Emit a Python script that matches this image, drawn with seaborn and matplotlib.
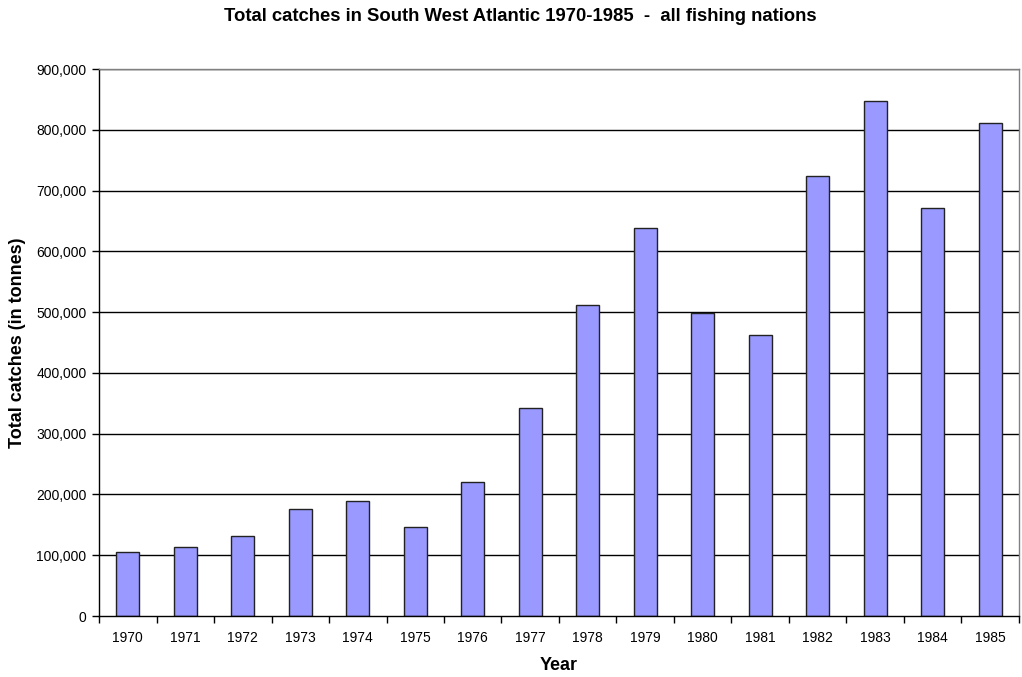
import matplotlib
matplotlib.use("Agg")
import matplotlib.pyplot as plt
import matplotlib.ticker as mticker
import seaborn as sns
import pandas as pd
import numpy as np

years = ["1970", "1971", "1972", "1973", "1974", "1975", "1976", "1977",
         "1978", "1979", "1980", "1981", "1982", "1983", "1984", "1985"]
catches = [106000, 113000, 131000, 176000, 189000, 146000, 220000, 343000,
           511000, 639000, 498000, 463000, 724000, 848000, 671000, 812000]
y_ticks = [0, 100000, 200000, 300000, 400000, 500000, 600000, 700000, 800000, 900000]

sns.set_theme(style="white")
plt.rcParams["font.family"] = ["Liberation Sans", "DejaVu Sans"]
plt.rcParams.update({"text.color": "black", "axes.labelcolor": "black",
                     "xtick.color": "black", "ytick.color": "black"})

df = pd.DataFrame({"Year": years, "Catch": catches})

fig = plt.figure(figsize=(10.22, 6.77), dpi=100)
ax = fig.add_axes([0.0969, 0.0901, 0.9001, 0.8079])

for v in y_ticks[1:]:
    ax.axhline(v, color="black", lw=1.0, zorder=0)

sns.barplot(data=df, x="Year", y="Catch", color="#9999FF", saturation=1,
            edgecolor="#222222", linewidth=1.0, width=0.4, ax=ax, zorder=2)

ax.set_xlim(-0.5, len(years) - 0.5)
ax.set_ylim(0, 900000)
ax.set_yticks(y_ticks)
ax.yaxis.set_major_formatter(mticker.FuncFormatter(lambda v, p: f"{int(v):,}"))

# category boundaries carry the tick marks, centres carry the labels
ax.set_xticks(np.arange(-0.5, len(years), 1.0))
ax.set_xticklabels([])
ax.set_xticks(np.arange(len(years)), minor=True)
ax.set_xticklabels(years, minor=True)
ax.tick_params(axis="x", which="major", direction="out", length=5, width=1, color="black", bottom=True)
ax.tick_params(axis="x", which="minor", length=0, pad=11, labelsize=10, labelcolor="black")
ax.tick_params(axis="y", direction="out", length=5, width=1, color="black", left=True,
               labelsize=10, pad=4, labelcolor="black")

for side in ["left", "bottom"]:
    ax.spines[side].set_color("black")
    ax.spines[side].set_linewidth(1.0)
for side in ["top", "right"]:
    ax.spines[side].set_color("#808080")
    ax.spines[side].set_linewidth(1.0)
    ax.spines[side].set_visible(True)

ax.set_xlabel("Year", fontsize=13, fontweight="bold", va="center", color="black")
ax.set_ylabel("Total catches (in tonnes)", fontsize=13, fontweight="bold", va="center", color="black")
ax.xaxis.set_label_coords(0.5, -0.0896)
ax.yaxis.set_label_coords(-0.0886, 0.5)

fig.text(0.5095, 0.976, "Total catches in South West Atlantic 1970-1985  -  all fishing nations",
         ha="center", va="center", fontsize=13.3, fontweight="bold", color="black")

fig.savefig("out.png", dpi=100, facecolor="white")
